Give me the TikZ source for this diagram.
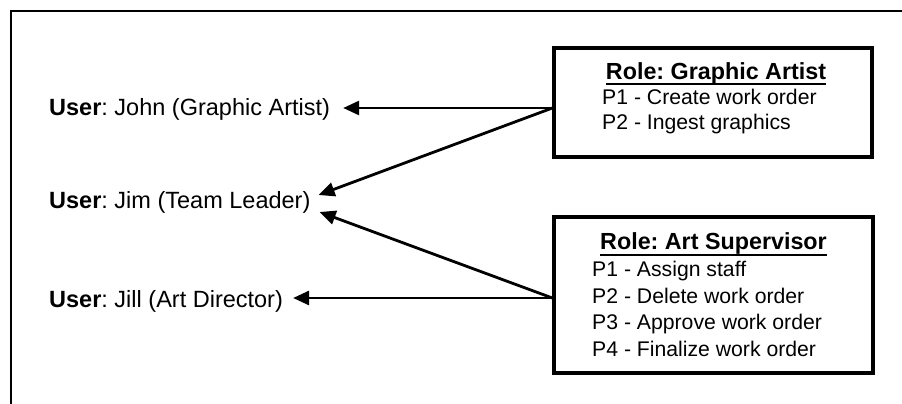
\documentclass[tikz,border=0pt]{standalone}
\usepackage{fontspec}
\setmainfont{Liberation Sans}
\usetikzlibrary{arrows.meta}
\frenchspacing

% underline sitting just under the baseline
\newcommand{\roleline}[1]{\setbox0\hbox{#1}\rlap{\rule[-6pt]{\wd0}{2pt}}\box0}

\tikzset{
    rolebox/.style={draw, line width=3.2pt, inner sep=0pt},
    roletitle/.style={anchor=base, inner sep=0pt, font=\fontsize{23.3}{26}\selectfont\bfseries},
    perm/.style={anchor=base west, inner sep=0pt, font=\fontsize{21.2}{25}\selectfont},
    userlabel/.style={anchor=base west, inner sep=0pt, font=\fontsize{23.5}{27}\selectfont},
    assign/.style={line width=2.8pt, -{Triangle[length=16pt, width=14pt]}}
}

\begin{document}
\begin{tikzpicture}[x=1pt, y=-1pt]
    \useasboundingbox (0,0) rectangle (902,404);

    % Outer frame (only top and left edges show)
    \draw[line width=2pt] (11,404) -- (11,11) -- (902,11);

    % Users
    \node[userlabel] (john) at (49,115.5) {\textbf{User}: John (Graphic Artist)};
    \node[userlabel] (jim) at (49,208.5) {\textbf{User}: Jim (Team Leader)};
    \node[userlabel] (jill) at (49,307) {\textbf{User}: Jill (Art Director)};

    % Role: Graphic Artist
    \node[rolebox, minimum width=318pt, minimum height=109pt] (artist) at (713,102.5) {};
    \node[roletitle] (artisttitle) at (716,79.5) {\roleline{Role: Graphic Artist}};
    \node[perm] (artistp1) at (602,104) {P1 - Create work order};
    \node[perm] (artistp2) at (602,129) {P2 - Ingest graphics};

    % Role: Art Supervisor
    \node[rolebox, minimum width=319pt, minimum height=156pt] (super) at (713.5,295) {};
    \node[roletitle] (supertitle) at (713.5,249.5) {\roleline{Role: Art Supervisor}};
    \node[perm] (superp1) at (592,276.5) {P1 - Assign staff};
    \node[perm] (superp2) at (592,303) {P2 - Delete work order};
    \node[perm] (superp3) at (592,329.5) {P3 - Approve work order};
    \node[perm] (superp4) at (592,356) {P4 - Finalize work order};

    % Arrow ends
    \coordinate (artistout) at ([yshift=-5.5pt]artist.west);
    \coordinate (superout) at ([yshift=-3pt]super.west);
    \coordinate (johnin) at ([xshift=13pt, yshift=7.5pt]john.base east);
    \coordinate (jimtop) at ([xshift=8pt, yshift=13.5pt]jim.base east);
    \coordinate (jimlow) at ([xshift=9pt, yshift=-3.5pt]jim.base east);
    \coordinate (jillin) at ([xshift=10pt, yshift=9pt]jill.base east);

    % Arrows
    \draw[assign] (artistout) -- (johnin);
    \draw[assign] (artistout) -- (jimtop);
    \draw[assign] (superout) -- (jimlow);
    \draw[assign] (superout) -- (jillin);
\end{tikzpicture}
\end{document}
